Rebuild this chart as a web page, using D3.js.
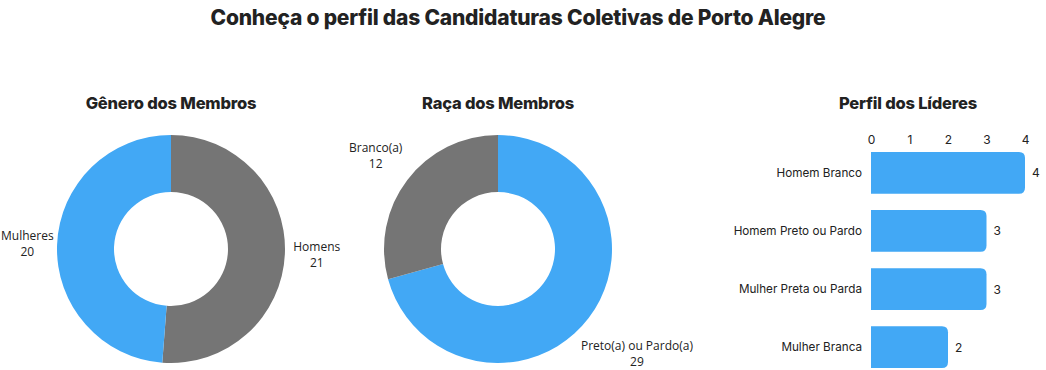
<!DOCTYPE html>
<html>
<head>
<meta charset="utf-8">
<script src="https://cdn.jsdelivr.net/npm/d3@7"></script>
<style>
  body { margin: 0; background: #fff; }
  svg text { fill: #222; }
</style>
</head>
<body>
<div id="chart-container"></div>
<script>
// Data
const generoLabels = ["Homens", "Mulheres"];
const generoValues = [21, 20];
const racaLabels = ["Preto(a) ou Pardo(a)", "Branco(a)"];
const racaValues = [29, 12];
const pieColors = ["#757575", "#42a8f5"];
const racaColors = ["#42a8f5", "#757575"];

const lideresLabels = ["Homem Branco", "Homem Preto ou Pardo", "Mulher Preta ou Parda", "Mulher Branca"];
const lideresValues = [4, 3, 3, 2];
const lideresTicks = [0, 1, 2, 3, 4];

const width = 1046;
const height = 370;
const titleFont = "Inter, 'DejaVu Sans', sans-serif";
const labelFont = "'Open Sans', 'Noto Sans', sans-serif";

const svg = d3.select("#chart-container")
    .append("svg")
    .attr("width", width)
    .attr("height", height);

// Main title
svg.append("text")
    .attr("x", 518)
    .attr("y", 25)
    .attr("text-anchor", "middle")
    .style("font-family", titleFont)
    .style("font-weight", 800)
    .style("font-size", "21px")
    .style("letter-spacing", "-0.2px")
    .text("Conheça o perfil das Candidaturas Coletivas de Porto Alegre");

function subTitle(x, txt) {
    svg.append("text")
        .attr("x", x)
        .attr("y", 109)
        .attr("text-anchor", "middle")
        .style("font-family", titleFont)
        .style("font-weight", 800)
        .style("font-size", "16.5px")
        .style("letter-spacing", "-0.2px")
        .text(txt);
}

function drawDonut(cx, cy, labels, values, colors) {
    const outer = 114, inner = 57;
    const pie = d3.pie().sort(null).value((d) => d);
    const arcs = pie(values);
    const arc = d3.arc().innerRadius(inner).outerRadius(outer);
    const g = svg.append("g").attr("transform", `translate(${cx},${cy})`);

    g.selectAll("path")
        .data(arcs)
        .enter()
        .append("path")
        .attr("d", arc)
        .attr("fill", (d, i) => colors[i]);

    // labels outside the ring: push out along the mid angle until the
    // label box is clear of the ring by a few px
    arcs.forEach((d, i) => {
        const a = (d.startAngle + d.endAngle) / 2;
        const dx = Math.sin(a), dy = -Math.cos(a);
        const t = g.append("text")
            .attr("text-anchor", "middle")
            .style("font-family", labelFont)
            .style("font-size", "12px");
        t.append("tspan").attr("x", 0).attr("dy", 0).text(labels[i]);
        t.append("tspan").attr("x", 0).attr("dy", 16).text(values[i]);
        const bb = t.node().getBBox();
        const hw = bb.width / 2, hh = bb.height / 2;
        let r = outer;
        for (; r < 300; r += 0.5) {
            const px = dx * r, py = dy * r;
            const nx = Math.max(Math.abs(px) - hw, 0);
            const ny = Math.max(Math.abs(py) - hh, 0);
            if (Math.hypot(nx, ny) >= outer + 8) break;
        }
        let px = dx * r, py = dy * r;
        // keep inside the page
        px = Math.max(px, -cx + hw + 1);
        py = Math.min(py, height - cy - hh);
        const offX = px - (bb.x + hw);
        const offY = py - (bb.y + hh);
        t.attr("transform", `translate(${offX},${offY})`);
    });
}

subTitle(171, "Gênero dos Membros");
drawDonut(171, 249, generoLabels, generoValues, pieColors);

subTitle(498, "Raça dos Membros");
drawDonut(498, 249, racaLabels, racaValues, racaColors);

// Bar chart
subTitle(908, "Perfil dos Líderes");

const xScale = d3.scaleLinear().domain([0, 4]).range([871, 1025]);
const yScale = d3.scaleBand()
    .domain(lideresLabels)
    .range([152, 368])
    .paddingInner(0.28)
    .paddingOuter(0);

const barFont = "Inter, 'Liberation Sans', sans-serif";

const xAxis = svg.append("g")
    .attr("transform", "translate(0,144)")
    .call(d3.axisTop(xScale).tickValues(lideresTicks).tickFormat(d3.format("d")).tickSize(0).tickPadding(0));
xAxis.select(".domain").remove();
xAxis.selectAll("text")
    .style("font-family", barFont)
    .style("font-size", "12px")
    .attr("fill", "#222");

const yAxis = svg.append("g")
    .attr("transform", "translate(871,0)")
    .call(d3.axisLeft(yScale).tickSize(0).tickPadding(9));
yAxis.select(".domain").remove();
yAxis.selectAll("text")
    .style("font-family", barFont)
    .style("font-size", "11.7px")
    .attr("fill", "#333");

function barPath(x0, x1, y, h, r) {
    return `M${x0},${y}H${x1 - r}Q${x1},${y} ${x1},${y + r}V${y + h - r}Q${x1},${y + h} ${x1 - r},${y + h}H${x0}Z`;
}

svg.selectAll(".bar")
    .data(lideresValues)
    .enter()
    .append("path")
    .attr("class", "bar")
    .attr("fill", "#42a8f5")
    .attr("d", (d, i) => barPath(xScale(0), xScale(d), yScale(lideresLabels[i]), yScale.bandwidth(), 6));

svg.selectAll(".val")
    .data(lideresValues)
    .enter()
    .append("text")
    .attr("class", "val")
    .attr("x", (d) => xScale(d) + 7)
    .attr("y", (d, i) => yScale(lideresLabels[i]) + yScale.bandwidth() / 2)
    .attr("dominant-baseline", "central")
    .style("font-family", barFont)
    .style("font-size", "12px")
    .text((d) => d);
</script>
</body>
</html>
